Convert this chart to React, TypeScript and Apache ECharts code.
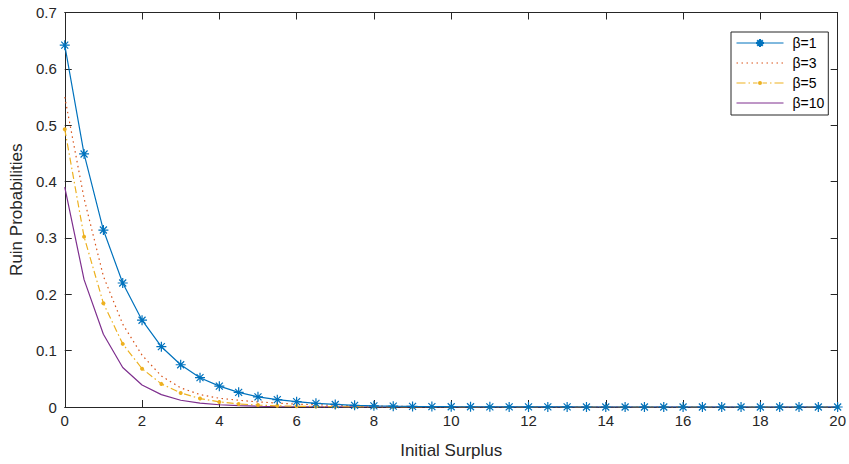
import React, { useEffect, useRef } from "react";
import * as echarts from "echarts";

const surplus = [
  0, 0.5, 1, 1.5, 2, 2.5, 3, 3.5, 4, 4.5, 5, 5.5, 6, 6.5, 7, 7.5, 8, 8.5, 9, 9.5, 10,
  10.5, 11, 11.5, 12, 12.5, 13, 13.5, 14, 14.5, 15, 15.5, 16, 16.5, 17, 17.5, 18, 18.5, 19, 19.5, 20,
];

const beta1 = [
  0.642, 0.449, 0.314, 0.22, 0.154, 0.107, 0.075, 0.052, 0.037, 0.026, 0.018, 0.013, 0.0095, 0.0065,
  0.0045, 0.003, 0.0021, 0.0015, 0.001, 0.0007, 0.0005, 0.0004, 0.0003, 0.0002, 0.0001, 0.0001,
  0.0001, 0, 0, 0, 0, 0, 0, 0, 0, 0, 0, 0, 0, 0, 0,
];

const beta3 = [
  0.55, 0.37, 0.232, 0.147, 0.092, 0.055, 0.034, 0.022, 0.0155, 0.012, 0.009, 0.007, 0.005, 0.004,
  0.003, 0.0022, 0.0016, 0.0012, 0.0009, 0.0007, 0.0005, 0.0004, 0.0003, 0.0002, 0.0002, 0.0001,
  0.0001, 0.0001, 0, 0, 0, 0, 0, 0, 0, 0, 0, 0, 0, 0, 0,
];

const beta5 = [
  0.493, 0.302, 0.184, 0.112, 0.068, 0.041, 0.025, 0.015, 0.009, 0.0055, 0.0034, 0.0021, 0.0013,
  0.0008, 0.0005, 0.0003, 0.0002, 0.0001, 0.0001, 0, 0, 0, 0, 0, 0, 0, 0, 0, 0, 0, 0, 0, 0, 0, 0,
  0, 0, 0, 0, 0, 0,
];

const beta10 = [
  0.39, 0.226, 0.129, 0.07, 0.039, 0.022, 0.012, 0.007, 0.004, 0.0023, 0.0013, 0.0007, 0.0004,
  0.0002, 0.0001, 0.0001, 0, 0, 0, 0, 0, 0, 0, 0, 0, 0, 0, 0, 0, 0, 0, 0, 0, 0, 0, 0, 0, 0, 0, 0, 0,
];

const seriesNames = ["β=1", "β=3", "β=5", "β=10"];
const xTicks = { min: 0, max: 20, interval: 2 };
const yTicks = { min: 0, max: 0.7, interval: 0.1 };

const pair = (ys: number[]) => surplus.map((x, i) => [x, ys[i]]);

const AXIS_COLOR = "#262626";
const FONT = "Liberation Sans, Arial, sans-serif";

// legend icon for the dash-dot series: dashes, dots and a small round marker in the middle
const DASH_DOT_ICON =
  "path://M0,-0.6h9v1.2h-9z M12,-0.6h1.5v1.2h-1.5z M16.5,-0.6h4.5v1.2h-4.5z " +
  "M21.5,0a2,2 0 1,0 4,0a2,2 0 1,0 -4,0z M26,-0.6h4.5v1.2h-4.5z M33.5,-0.6h1.5v1.2h-1.5z M38,-0.6h9v1.2h-9z";

export default function App() {
  const ref = useRef<HTMLDivElement>(null);
  useEffect(() => {
    if (!ref.current) return;
    const chart = echarts.init(ref.current, null, { renderer: "svg" });
    const axisCommon = {
      type: "value" as const,
      splitLine: { show: false },
      axisLine: { show: true, onZero: false, lineStyle: { color: AXIS_COLOR, width: 1 } },
      axisTick: { show: true, inside: true, length: 7, lineStyle: { color: AXIS_COLOR, width: 1 } },
    };
    const star = "path://M5,0L5,10M0,5L10,5M1.5,1.5L8.5,8.5M1.5,8.5L8.5,1.5";
    chart.setOption({
      animation: false,
      backgroundColor: "#ffffff",
      textStyle: { fontFamily: FONT },
      grid: { left: 62, right: 9, top: 12.5, bottom: 53, containLabel: false },
      legend: {
        data: [
          { name: seriesNames[0] },
          { name: seriesNames[1], itemStyle: { opacity: 0 } },
          { name: seriesNames[2], icon: DASH_DOT_ICON },
          { name: seriesNames[3], itemStyle: { opacity: 0 } },
        ],
        orient: "vertical",
        left: 731,
        top: 32,
        padding: [4, 4, 5, 5],
        itemGap: 6,
        itemWidth: 47,
        itemHeight: 10,
        symbolKeepAspect: true,
        lineStyle: { width: 1 },
        backgroundColor: "#ffffff",
        borderColor: AXIS_COLOR,
        borderWidth: 1,
        borderRadius: 0,
        textStyle: { fontSize: 14, color: "#000000", fontFamily: FONT, padding: [0, 0, 0, 4] },
      },
      xAxis: [
        {
          ...axisCommon,
          ...xTicks,
          position: "bottom",
          name: "Initial Surplus",
          nameLocation: "middle",
          nameGap: 35,
          nameTextStyle: { fontSize: 17, color: AXIS_COLOR, fontFamily: FONT },
          axisLabel: { fontSize: 15, color: AXIS_COLOR, margin: 6, fontFamily: FONT },
        },
        {
          ...axisCommon,
          ...xTicks,
          position: "top",
          axisLabel: { show: false },
        },
      ],
      yAxis: [
        {
          ...axisCommon,
          ...yTicks,
          position: "left",
          name: "Ruin Probabilities",
          nameLocation: "middle",
          nameGap: 36,
          nameTextStyle: { fontSize: 17, color: AXIS_COLOR, fontFamily: FONT },
          axisLabel: {
            fontSize: 15,
            color: AXIS_COLOR,
            margin: 8,
            fontFamily: FONT,
            formatter: (v: number) => (v === 0 ? "0" : v.toFixed(1)),
          },
        },
        {
          ...axisCommon,
          ...yTicks,
          position: "right",
          axisLabel: { show: false },
        },
      ],
      series: [
        {
          name: seriesNames[0],
          type: "line",
          data: pair(beta1),
          symbol: star,
          symbolSize: 10,
          itemStyle: { color: "#0072BD", borderColor: "#0072BD", borderWidth: 1.2 },
          lineStyle: { color: "#0072BD", width: 1.2 },
          z: 5,
        },
        {
          name: seriesNames[1],
          type: "line",
          data: pair(beta3),
          symbol: "none",
          itemStyle: { color: "#D95319" },
          lineStyle: { color: "#D95319", width: 1.2, type: [1.5, 3.5] },
          z: 4,
        },
        {
          name: seriesNames[2],
          type: "line",
          data: pair(beta5),
          symbol: "circle",
          symbolSize: 4,
          itemStyle: { color: "#EDB120", borderWidth: 0 },
          lineStyle: { color: "#EDB120", width: 1.2, type: [7, 3, 1.5, 3] },
          z: 3,
        },
        {
          name: seriesNames[3],
          type: "line",
          data: pair(beta10),
          symbol: "none",
          itemStyle: { color: "#7E2F8E" },
          lineStyle: { color: "#7E2F8E", width: 1.2 },
          z: 2,
        },
      ],
    });
    return () => chart.dispose();
  }, []);
  return (
    <div
      ref={ref}
      style={{ position: "fixed", left: 0, top: 0, width: 849, height: 464, background: "#fff" }}
    />
  );
}
